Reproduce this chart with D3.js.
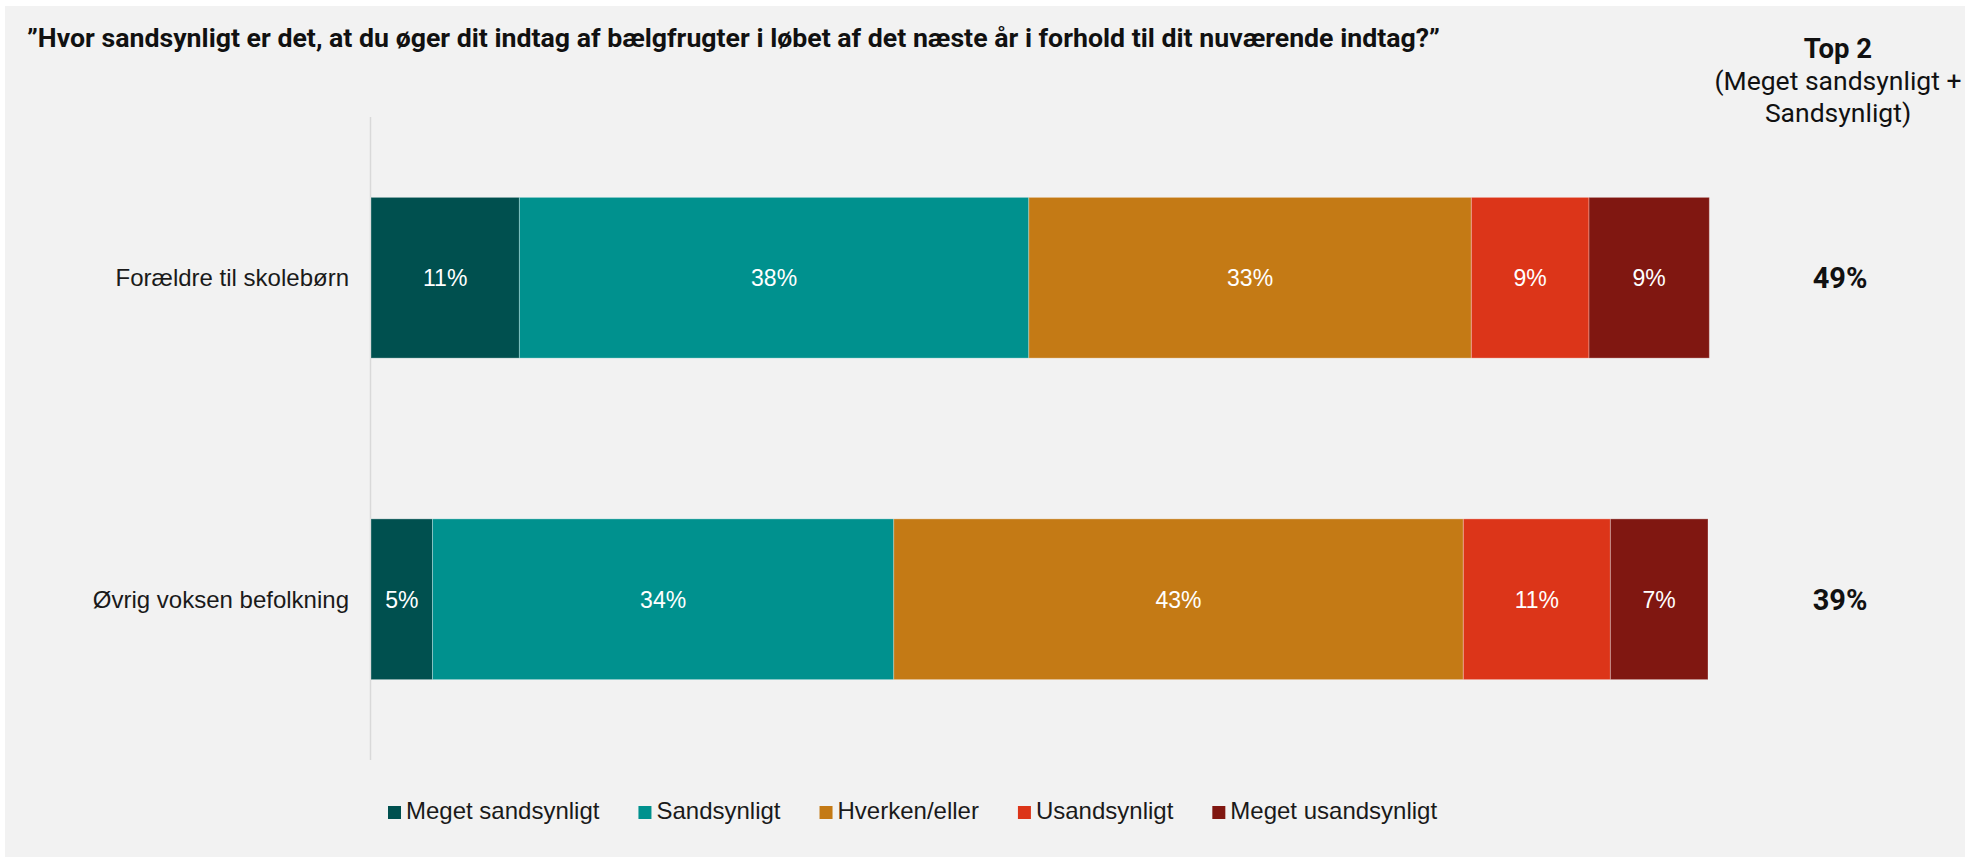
<!DOCTYPE html>
<html>
<head>
<meta charset="utf-8">
<script src="https://cdn.jsdelivr.net/npm/d3@7"></script>
<style>
    body { margin: 0; background: #ffffff; }
    svg { display: block; }
</style>
</head>
<body>
<div id="chart"></div>
<script>
// categories (rows) and answer options (stack order)
const groups = ["Forældre til skolebørn", "Øvrig voksen befolkning"];
const answers = ["Meget sandsynligt", "Sandsynligt", "Hverken/eller", "Usandsynligt", "Meget usandsynligt"];
const colors = ["#00504f", "#00918e", "#c47a15", "#dc3519", "#801711"];

// share in percent per row
const megetSandsynligt = [11.1, 4.6];
const sandsynligt = [38.1, 34.5];
const hverkenEller = [33.1, 42.6];
const usandsynligt = [8.8, 11.0];
const megetUsandsynligt = [9.0, 7.3];

// printed labels
const segmentLabels = [
    ["11%", "38%", "33%", "9%", "9%"],
    ["5%", "34%", "43%", "11%", "7%"]
];
const top2Labels = ["49%", "39%"];

const title = "\u201DHvor sandsynligt er det, at du øger dit indtag af bælgfrugter i løbet af det næste år i forhold til dit nuværende indtag?\u201D";
const top2Header = ["Top 2", "(Meget sandsynligt +", "Sandsynligt)"];

const width = 1970, height = 862;

let svg = d3.select("#chart").append("svg").attr("width", width).attr("height", height);

// grey panel
svg.append("rect").attr("x", 5).attr("y", 6).attr("width", width - 10).attr("height", height - 11).attr("fill", "#f2f2f2");

// build row objects for the stack
let rows = groups.map((g, i) => ({
    group: g,
    "Meget sandsynligt": megetSandsynligt[i],
    "Sandsynligt": sandsynligt[i],
    "Hverken/eller": hverkenEller[i],
    "Usandsynligt": usandsynligt[i],
    "Meget usandsynligt": megetUsandsynligt[i]
}));

let series = d3.stack().keys(answers)(rows);

let x = d3.scaleLinear().domain([0, 100]).range([371, 1708]);
let y = d3.scaleBand().domain(groups).range([117, 760]).paddingInner(0.5).paddingOuter(0.25);

// vertical axis line
svg.append("line")
    .attr("x1", 370.5).attr("x2", 370.5)
    .attr("y1", 117).attr("y2", 760)
    .attr("stroke", "#d9d9d9").attr("stroke-width", 1.5);

// bars
let layer = svg.selectAll("g.layer").data(series).enter().append("g")
    .attr("class", "layer")
    .attr("fill", (d, i) => colors[i]);

layer.selectAll("rect").data(d => d).enter().append("rect")
    .attr("x", d => x(d[0]))
    .attr("y", d => y(d.data.group))
    .attr("width", d => x(d[1]) - x(d[0]))
    .attr("height", y.bandwidth())
    .attr("stroke", "rgba(255,255,255,0.3)")
    .attr("stroke-width", 1);

// value labels inside segments
layer.selectAll("text").data((d, i) => d.map((p, j) => ({p: p, label: segmentLabels[j][i]}))).enter().append("text")
    .attr("x", d => (x(d.p[0]) + x(d.p[1])) / 2)
    .attr("y", d => y(d.p.data.group) + y.bandwidth() / 2)
    .attr("dy", "0.36em")
    .attr("text-anchor", "middle")
    .attr("font-family", "Liberation Sans, Arial, sans-serif")
    .attr("font-size", "23px")
    .style("fill", "white")
    .text(d => d.label);

// category labels
svg.selectAll("text.cat").data(groups).enter().append("text")
    .attr("class", "cat")
    .attr("x", 349)
    .attr("y", d => y(d) + y.bandwidth() / 2)
    .attr("dy", "0.36em")
    .attr("text-anchor", "end")
    .attr("font-family", "Liberation Sans, Arial, sans-serif")
    .attr("font-size", "24px")
    .style("fill", "#1a1a1a")
    .text(d => d);

// top 2 column
svg.selectAll("text.top2").data(groups).enter().append("text")
    .attr("class", "top2")
    .attr("x", 1840)
    .attr("y", d => y(d) + y.bandwidth() / 2)
    .attr("dy", "0.36em")
    .attr("text-anchor", "middle")
    .attr("font-family", "Roboto, sans-serif")
    .attr("font-weight", "bold")
    .attr("font-size", "29px")
    .style("fill", "#111111")
    .text((d, i) => top2Labels[i]);

svg.selectAll("text.top2head").data(top2Header).enter().append("text")
    .attr("class", "top2head")
    .attr("x", 1838)
    .attr("y", (d, i) => 58 + i * 32)
    .attr("text-anchor", "middle")
    .attr("font-family", "Roboto, sans-serif")
    .attr("font-weight", (d, i) => i == 0 ? "bold" : "normal")
    .attr("font-size", (d, i) => i == 0 ? "27.5px" : "26.5px")
    .style("fill", "#111111")
    .text(d => d);

// title
svg.append("text")
    .attr("x", 27).attr("y", 47)
    .attr("font-family", "Roboto, sans-serif")
    .attr("font-weight", "bold")
    .attr("font-size", "26.7px")
    .style("fill", "#111111")
    .text(title);

// legend
let legend = svg.append("g").attr("transform", "translate(388,806)");
let lx = 0;
answers.forEach((a, i) => {
    let item = legend.append("g").attr("transform", "translate(" + lx + ",0)");
    item.append("rect").attr("width", 13).attr("height", 13).attr("fill", colors[i]);
    let t = item.append("text")
        .attr("x", 18).attr("y", 13)
        .attr("font-family", "Liberation Sans, Arial, sans-serif")
        .attr("font-size", "24px")
        .style("fill", "#1a1a1a")
        .text(a);
    lx += 18 + t.node().getComputedTextLength() + 39;
});
</script>
</body>
</html>
